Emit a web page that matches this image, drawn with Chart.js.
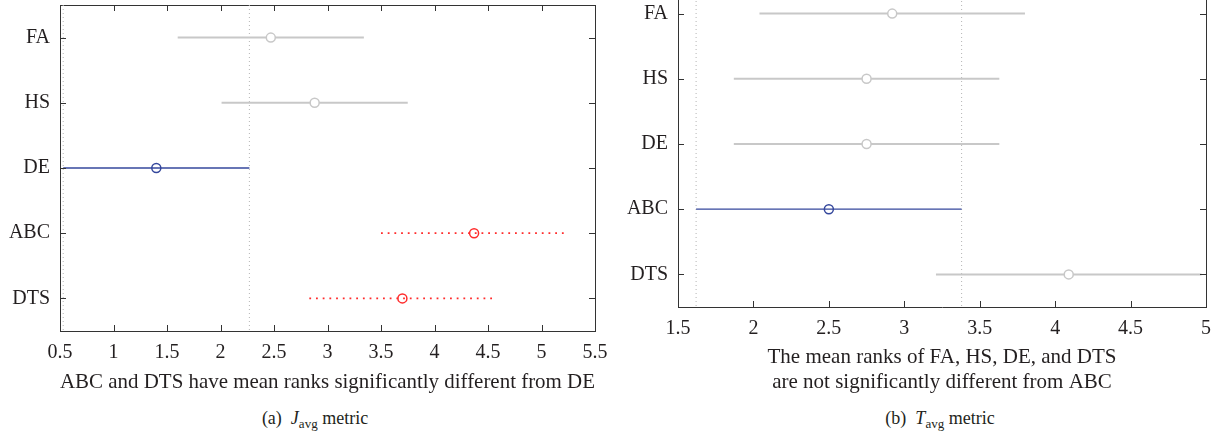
<!DOCTYPE html>
<html>
<head>
<meta charset="utf-8">
<script src="https://cdn.jsdelivr.net/npm/chart.js@4.4.1/dist/chart.umd.min.js"></script>
<style>
  html, body { margin: 0; padding: 0; background: #fff; }
  body { width: 1213px; height: 438px; overflow: hidden; position: relative; }
  canvas { position: absolute; }
  #chartA { left: 0; top: 0; }
  #chartB { left: 610px; top: -25px; }
  .caption {
    position: absolute; top: 408px; white-space: nowrap;
    font-family: "Liberation Serif", serif; font-size: 18px; color: #231f20;
    transform: translateX(-50%);
  }
  .caption sub { font-size: 13px; vertical-align: -4px; line-height: 0; }
</style>
</head>
<body>
<canvas id="chartA" width="610" height="400"></canvas>
<canvas id="chartB" width="603" height="425"></canvas>
<div class="caption" style="left:315px">(a)&nbsp; <i>J</i><sub>avg</sub> metric</div>
<div class="caption" style="left:940px">(b)&nbsp; <i>T</i><sub>avg</sub> metric</div>
<script>
// rows, top to bottom
const rowLabels = ['FA', 'HS', 'DE', 'ABC', 'DTS']

// (a) J_avg: mean ranks and comparison intervals
const jMean = [2.47, 2.88, 1.40, 4.37, 3.70]
const jLow  = [1.60, 2.01, 0.53, 3.50, 2.83]
const jHigh = [3.34, 3.75, 2.27, 5.24, 4.57]
const jRole = ['same', 'same', 'ref', 'diff', 'diff']
const jGuides = [0.53, 2.27]
const jTicks = [0.5, 1, 1.5, 2, 2.5, 3, 3.5, 4, 4.5, 5, 5.5]

// (b) T_avg
const tMean = [2.92, 2.75, 2.75, 2.50, 4.09]
const tLow  = [2.04, 1.87, 1.87, 1.62, 3.21]
const tHigh = [3.80, 3.63, 3.63, 3.38, 4.97]
const tRole = ['same', 'same', 'same', 'ref', 'same']
const tGuides = [1.62, 3.38]
const tTicks = [1.5, 2, 2.5, 3, 3.5, 4, 4.5, 5]

const TEXT = '#231f20'
const FONT = '"Liberation Serif", "Times New Roman", serif'

const styles = {
  same: { color: '#c8c8c8', width: 2, dash: [], fill: '#ffffff' },
  ref:  { color: '#34479c', width: 1.3, dash: [], fill: 'rgba(0,0,0,0)' },
  diff: { color: '#ff2b2b', width: 1.8, dash: [1.8, 4.9], fill: 'rgba(0,0,0,0)' }
}

// MATLAB style tick marks pointing into the box
const innerTicks = {
  id: 'innerTicks',
  afterDraw(chart) {
    const { ctx, chartArea: a, scales } = chart
    ctx.save()
    ctx.strokeStyle = '#333'
    ctx.lineWidth = 1
    ctx.beginPath()
    scales.x.ticks.forEach(t => {
      const px = Math.round(scales.x.getPixelForValue(t.value)) + 0.5
      ctx.moveTo(px, a.bottom); ctx.lineTo(px, a.bottom - 6)
      ctx.moveTo(px, a.top); ctx.lineTo(px, a.top + 6)
    })
    scales.y.ticks.forEach(t => {
      const py = Math.round(scales.y.getPixelForValue(t.value)) + 0.5
      ctx.moveTo(a.left, py); ctx.lineTo(a.left + 6, py)
      ctx.moveTo(a.right, py); ctx.lineTo(a.right - 6, py)
    })
    ctx.stroke()
    ctx.restore()
  }
}

function makeChart(id, means, lows, highs, roles, guides, ticks, title, box) {
  const canvas = document.getElementById(id)
  const datasets = []

  for (let i = 0; i < rowLabels.length; i++) {
    const st = styles[roles[i]]
    datasets.push({
      data: [{ x: lows[i], y: i + 1 }, { x: means[i], y: i + 1 }, { x: highs[i], y: i + 1 }],
      borderColor: st.color,
      borderWidth: st.width,
      borderDash: st.dash,
      pointRadius: [0, 4.5, 0],
      pointBorderColor: st.color,
      pointBorderWidth: 1.5,
      pointBackgroundColor: st.fill,
      order: 0
    })
  }
  guides.forEach(g => {
    datasets.push({
      data: [{ x: g, y: 0.5 }, { x: g, y: 5.5 }],
      borderColor: '#b4b4b4',
      borderWidth: 1,
      borderDash: [1, 3],
      pointRadius: 0,
      order: 1
    })
  })

  const setTicks = vals => scale => { scale.ticks = vals.map(v => ({ value: v })) }
  const rowTicks = rowLabels.map((_, i) => i + 1)
  const border = { display: true, color: '#333', width: 1 }
  const noGrid = { display: false, drawTicks: false }
  // fixed box sizes, and no label overhang padding so the plot box sits where it should
  const fixSize = (prop, val) => s => {
    s[prop] = val
    s.paddingTop = s.paddingBottom = s.paddingLeft = s.paddingRight = 0
  }

  return new Chart(canvas.getContext('2d'), {
    type: 'line',
    data: { datasets },
    options: {
      responsive: false,
      animation: false,
      layout: { padding: 0 },
      plugins: { legend: { display: false }, tooltip: { enabled: false } },
      scales: {
        x: {
          type: 'linear', position: 'bottom',
          min: ticks[0], max: ticks[ticks.length - 1],
          afterBuildTicks: setTicks(ticks),
          grid: noGrid, border,
          ticks: { color: TEXT, font: { family: FONT, size: 20 }, padding: 10, maxRotation: 0, autoSkip: false, callback: v => String(v) },
          title: { display: true, text: title, color: TEXT, font: { family: FONT, size: 21, lineHeight: 1.19 }, padding: { top: 0, bottom: 5 } },
          afterFit: fixSize('height', box.bottom)
        },
        x2: {
          type: 'linear', position: 'top',
          min: ticks[0], max: ticks[ticks.length - 1],
          grid: noGrid, border, ticks: { display: false },
          afterFit: fixSize('height', box.top)
        },
        y: {
          type: 'linear', position: 'left', reverse: true,
          min: 0.5, max: 5.5,
          afterBuildTicks: setTicks(rowTicks),
          grid: noGrid, border,
          ticks: { color: TEXT, font: { family: FONT, size: 20 }, padding: 10, callback: v => rowLabels[v - 1] },
          afterFit: fixSize('width', box.left)
        },
        y2: {
          type: 'linear', position: 'right', reverse: true,
          min: 0.5, max: 5.5,
          grid: noGrid, border, ticks: { display: false },
          afterFit: fixSize('width', box.right)
        }
      }
    },
    plugins: [innerTicks]
  })
}

makeChart('chartA', jMean, jLow, jHigh, jRole, jGuides, jTicks,
  'ABC and DTS have mean ranks significantly different from DE',
  { left: 60, right: 15, top: 5, bottom: 69 })

makeChart('chartB', tMean, tLow, tHigh, tRole, tGuides, tTicks,
  ['The mean ranks of FA, HS, DE, and DTS', 'are not significantly different from ABC'],
  { left: 68, right: 7, top: 6, bottom: 93 })
</script>
</body>
</html>
